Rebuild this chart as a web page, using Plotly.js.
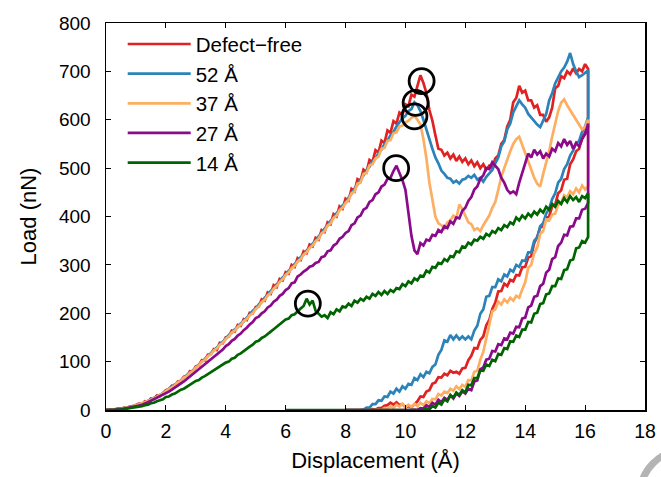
<!DOCTYPE html>
<html>
<head>
<meta charset="utf-8">
<script src="https://cdn.plot.ly/plotly-3.0.1.min.js"></script>
<style>html,body{margin:0;padding:0;background:#fff;}#chart{width:661px;height:477px;}</style>
</head>
<body>
<div id="chart"></div>
<script>
// Displacement grid for loading branches (Å)
const loadX = [0.0,0.1,0.2,0.3,0.4,0.5,0.6,0.7,0.8,0.9,
1.0,1.1,1.2,1.3,1.4,1.5,1.6,1.7,1.8,1.9,
2.0,2.1,2.2,2.3,2.4,2.5,2.6,2.7,2.8,2.9,
3.0,3.1,3.2,3.3,3.4,3.5,3.6,3.7,3.8,3.9,
4.0,4.1,4.2,4.3,4.4,4.5,4.6,4.7,4.8,4.9,
5.0,5.1,5.2,5.3,5.4,5.5,5.6,5.7,5.8,5.9,
6.0,6.1,6.2,6.3,6.4,6.5,6.6,6.7,6.8,6.9,
7.0,7.1,7.2,7.3,7.4,7.5,7.6,7.7,7.8,7.9,
8.0,8.1,8.2,8.3,8.4,8.5,8.6,8.7,8.8,8.9,
9.0,9.1,9.2,9.3,9.4,9.5,9.6,9.7,9.8,9.9,
10.0,10.1,10.2,10.3,10.4,10.5,10.6,10.7,10.8,10.9,
11.0,11.1,11.2,11.3,11.4,11.5,11.6,11.7,11.8,11.9,
12.0,12.1,12.2,12.3,12.4,12.5,12.6,12.7,12.8,12.9,
13.0,13.1,13.2,13.3,13.4,13.5,13.6,13.7,13.8,13.9,
14.0,14.1,14.2,14.3,14.4,14.5,14.6,14.7,14.8,14.9,
15.0,15.1,15.2,15.3,15.4,15.5,15.6,15.7,15.8,15.9,
16.0,16.1];

// Displacement grid for unloading branches (Å), from max depth back
const unloadX = [16.1,16.0,15.9,15.8,15.7,15.6,15.5,15.4,15.3,15.2,
15.1,15.0,14.9,14.8,14.7,14.6,14.5,14.4,14.3,14.2,
14.1,14.0,13.9,13.8,13.7,13.6,13.5,13.4,13.3,13.2,
13.1,13.0,12.9,12.8,12.7,12.6,12.5,12.4,12.3,12.2,
12.1,12.0,11.9,11.8,11.7,11.6,11.5,11.4,11.3,11.2,
11.1,11.0,10.9,10.8,10.7,10.6,10.5,10.4,10.3,10.2,
10.1,10.0,9.9,9.8,9.7,9.6,9.5,9.4,9.3,9.2,
9.1,9.0,8.9,8.8,8.7,8.6,8.5,8.4,8.3,8.2,
8.1,8.0,7.9,7.8,7.7,7.6,7.5,7.4,7.3,7.2,
7.1,7.0,6.9,6.8,6.7,6.6,6.5,6.4,6.3,6.2,
6.1,6.0];

const seriesNames = ["Defect\u2212free", "52 \u00c5", "37 \u00c5", "27 \u00c5", "14 \u00c5"];

// Load (nN) — loading branches
const loadDefectFree = [0,1,0,2,3,2,5,4,7,8,
10,13,12,18,17,24,23,30,29,36,
41,43,50,49,59,60,69,70,80,79,
90,92,103,102,114,115,126,124,139,138,
150,152,164,162,176,174,188,186,201,200,
213,214,229,226,243,240,258,254,271,268,
285,282,300,296,314,310,328,324,342,338,
356,352,372,368,388,384,405,400,421,416,
437,433,457,452,477,473,497,492,517,513,
537,532,557,552,578,573,597,592,615,610,
632,628,652,648,672,692,676,655,620,598,
568,540,538,526,532,520,528,515,524,513,
520,508,516,504,512,500,508,497,505,500,
520,526,550,558,586,600,636,645,670,656,
660,640,640,625,630,610,610,596,605,625,
665,670,690,686,700,694,706,696,705,700,
715,705];

const load52 = [0,0,1,1,3,2,4,5,6,8,
9,12,13,16,19,21,25,27,31,34,
39,44,47,53,56,62,66,72,76,82,
87,94,99,106,110,118,122,130,134,142,
147,155,159,167,171,179,183,191,196,205,
209,218,223,232,237,246,251,260,265,274,
279,288,293,302,307,316,321,330,335,344,
349,359,365,375,381,391,397,407,413,423,
428,439,447,458,466,477,485,496,503,514,
520,531,538,550,557,568,575,586,594,603,
608,618,622,636,630,618,600,582,560,540,
522,510,495,488,480,478,470,474,468,476,
478,484,480,486,476,480,472,482,490,496,
510,522,545,555,580,592,615,628,640,632,
625,612,605,596,590,585,598,612,640,655,
675,688,700,708,720,738,715,700,688,692,
698,702];

const load37 = [0,1,1,2,2,3,4,5,6,7,
10,11,14,16,19,21,25,27,31,34,
39,43,48,51,57,60,67,70,77,80,
88,92,100,103,111,115,123,127,135,139,
147,152,160,164,172,176,184,188,196,200,
209,214,223,228,237,242,251,256,265,270,
279,284,293,298,307,312,321,326,335,340,
349,354,365,370,381,386,397,402,413,418,
428,434,448,452,468,470,488,490,506,508,
520,524,540,542,556,558,572,574,586,588,
594,598,604,608,600,590,560,520,470,430,
400,386,382,375,388,392,402,396,425,415,
400,388,384,372,376,370,382,392,402,418,
430,455,482,500,520,535,550,560,565,548,
530,512,495,480,468,462,488,510,535,565,
590,618,635,642,630,620,610,600,590,580,
585,600];

const load27 = [0,0,1,1,2,2,3,4,5,6,
8,9,11,13,16,19,22,25,28,31,
35,38,42,46,50,55,59,64,69,74,
80,84,90,94,100,104,110,114,120,125,
132,136,143,147,154,158,165,170,177,182,
190,193,200,204,212,216,224,228,236,240,
248,252,262,264,276,280,286,290,296,298,
304,306,316,318,328,330,340,344,354,358,
366,370,382,386,398,402,414,418,430,434,
446,450,462,466,478,480,494,505,490,475,
455,410,360,330,322,345,340,352,350,362,
360,372,368,380,376,390,385,398,396,412,
418,432,440,456,462,478,485,500,498,512,
505,498,480,470,455,448,452,446,470,490,
512,530,522,538,528,535,520,530,524,540,
535,552,545,560,548,556,540,552,545,560,
570,592];

const load14 = [0,0,0,1,1,1,2,3,3,4,
6,7,8,10,11,14,15,18,20,22,
27,28,32,34,38,42,44,48,51,55,
60,62,67,70,74,78,81,86,90,94,
98,100,106,108,114,117,122,126,131,135,
141,143,149,152,158,162,167,172,177,181,
187,189,196,198,205,210,215,230,218,226,
205,198,193,196,190,202,198,208,204,214,
212,220,215,226,222,230,226,234,230,240,
236,244,238,246,240,248,244,252,250,260,
256,266,262,272,268,278,276,288,284,296,
294,304,302,312,308,318,316,328,326,338,
336,346,342,352,350,358,354,364,360,370,
366,376,372,382,378,388,384,398,392,402,
396,406,400,410,404,414,408,420,414,426,
420,432,426,438,430,442,434,440,430,442,
438,448];

// Load (nN) — unloading branches
const unloadDefectFree = [585,574,562,540,535,518,508,478,476,454,
448,424,421,400,398,380,377,358,345,318,
315,296,295,278,279,266,269,256,261,246,
245,222,209,186,175,152,145,127,128,112,
103,87,86,75,79,77,81,72,75,67,
68,57,54,41,38,27,28,18,13,6,
8,6,12,10,16,11,15,10,9,4,
4,1,2,0,1,0,0,0,0,0,
0,0,null,null,null,null,null,null,null,null,
null,null,null,null,null,null,null,null,null,null,
null,null];

const unload52 = [605,586,575,556,552,536,526,508,498,478,
470,448,436,416,406,386,380,356,350,326,
326,308,309,296,300,286,290,276,280,266,
270,254,254,236,234,208,199,174,164,146,
152,146,152,146,154,146,155,141,144,124,
114,94,89,76,79,68,74,62,66,52,
54,44,49,38,44,34,38,27,28,19,
20,12,12,5,5,1,0,0,0,0,
0,0,null,null,null,null,null,null,null,null,
null,null,null,null,null,null,null,null,null,null,
null,null];

const unload37 = [462,456,464,450,458,446,452,440,444,428,
424,406,404,392,394,370,364,336,324,300,
294,264,249,232,236,226,232,222,229,218,
224,208,204,176,154,120,104,81,79,61,
62,48,52,43,49,40,44,35,38,30,
33,22,23,14,18,10,15,8,13,6,
11,6,13,7,11,4,8,2,4,0,
1,0,0,0,0,0,0,0,0,0,
0,0,null,null,null,null,null,null,null,null,
null,null,null,null,null,null,null,null,null,null,
null,null];

const unload27 = [428,416,414,396,396,380,379,361,362,346,
339,316,312,290,284,261,256,236,234,216,
212,191,189,171,172,158,160,146,148,134,
136,121,122,106,104,88,84,61,59,41,
44,34,39,29,34,24,31,21,25,16,
21,11,15,6,10,3,4,0,1,0,
0,0,0,0,0,0,0,0,0,0,
0,0,0,0,0,0,0,0,0,0,
0,0,null,null,null,null,null,null,null,null,
null,null,null,null,null,null,null,null,null,null,
null,null];

const unload14 = [358,346,349,336,334,311,309,291,289,271,
272,256,256,241,239,221,219,201,199,181,
182,166,166,151,154,141,142,126,128,114,
116,101,104,91,94,81,82,66,66,51,
52,36,41,31,36,26,30,18,22,11,
15,5,8,1,3,0,0,0,0,0,
0,0,0,0,0,0,0,0,0,0,
0,0,0,0,0,0,0,0,0,0,
0,0,0,0,0,0,0,0,0,0,
0,0,0,0,0,0,0,0,0,0,
0,0];

// Onset points marked with circles
const onsetX = [10.54, 10.34, 10.30, 9.69, 6.74];
const onsetY = [680, 635, 607, 500, 220];

const colors = ["#e02222", "#2b83ba", "#fdae61", "#8b0a8b", "#006400"];
const loads = [loadDefectFree, load52, load37, load27, load14];
const unloads = [unloadDefectFree, unload52, unload37, unload27, unload14];

const traces = seriesNames.map((name, i) => ({
  type: "scatter",
  mode: "lines",
  name: name,
  legendgroup: "g" + i,
  x: loadX.concat(unloadX),
  y: loads[i].concat(unloads[i]),
  connectgaps: false,
  line: {color: colors[i], width: 2.7},
  hoverinfo: "skip"
}));

traces.push({
  type: "scatter",
  mode: "markers",
  x: onsetX,
  y: onsetY,
  showlegend: false,
  marker: {symbol: "circle-open", size: 25, color: "#000", line: {width: 2.8, color: "#000"}},
  cliponaxis: false
});

const font = "Liberation Sans, Arial, Helvetica, sans-serif";

const layout = {
  width: 661,
  height: 477,
  margin: {l: 106, r: 16, t: 23, b: 67},
  paper_bgcolor: "#fff",
  plot_bgcolor: "#fff",
  font: {family: font, size: 20, color: "#000"},
  showlegend: true,
  legend: {
    x: 0.031, y: 0.997, xanchor: "left", yanchor: "top",
    bgcolor: "rgba(0,0,0,0)", borderwidth: 0,
    font: {family: font, size: 20.5, color: "#000"},
    traceorder: "grouped", tracegroupgap: 0, itemwidth: 63
  },
  xaxis: {
    range: [0, 18], dtick: 2, tick0: 0,
    ticks: "inside", ticklen: 5, tickwidth: 1, tickcolor: "#000",
    showline: true, linecolor: "#000", linewidth: 1.5, mirror: "allticks",
    showgrid: false, zeroline: false,
    tickfont: {family: font, size: 19.5},
    ticklabelstandoff: 3,
    title: {text: "Displacement (\u00c5)", font: {family: font, size: 22}, standoff: 11}
  },
  yaxis: {
    range: [0, 800], dtick: 100, tick0: 0,
    ticks: "inside", ticklen: 5, tickwidth: 1, tickcolor: "#000",
    showline: true, linecolor: "#000", linewidth: 1.5, mirror: "allticks",
    showgrid: false, zeroline: false,
    tickfont: {family: font, size: 19},
    ticklabelstandoff: 10,
    title: {text: "Load (nN)", font: {family: font, size: 22}, standoff: 16}
  },
  shapes: [{
    type: "circle", xref: "paper", yref: "paper",
    x0: 0.9907, x1: 1.1577, y0: -0.336, y1: -0.1034,
    line: {color: "#b4b4b4", width: 7}
  }]
};

Plotly.newPlot("chart", traces, layout, {displayModeBar: false, staticPlot: true});
</script>
</body>
</html>
